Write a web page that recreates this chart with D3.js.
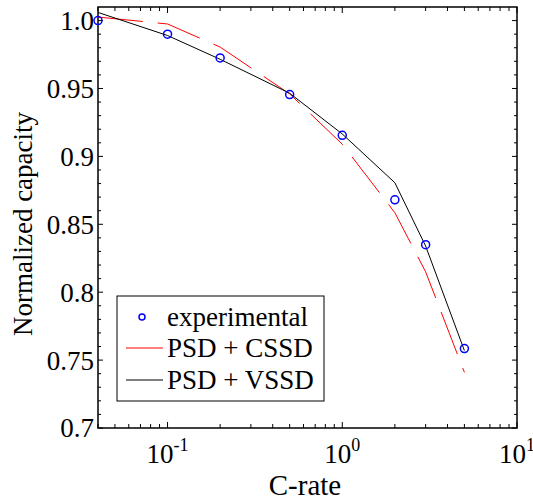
<!DOCTYPE html>
<html>
<head>
<meta charset="utf-8">
<script src="https://cdn.jsdelivr.net/npm/d3@7"></script>
<style>
  body { margin: 0; background: #fff; }
  svg { display: block; }
  svg text { font-family: "Liberation Serif", "DejaVu Serif", "Noto Serif", Times, serif; }
</style>
</head>
<body>
<svg id="chart"></svg>
<script>
const width = 533;
const height = 502;

// C-rate values shared by every series
const cRates = [0.04, 0.1, 0.2, 0.5, 1, 2, 3, 5];
// experimental normalized capacity
const experimental = [1.0, 0.990, 0.9725, 0.9455, 0.9155, 0.868, 0.835, 0.7585];
// PSD + CSSD model (red dashed)
const psdCssd = [1.0026, 0.9975, 0.9805, 0.946, 0.909, 0.8585, 0.815, 0.741];
// PSD + VSSD model (black solid)
const psdVssd = [1.006, 0.989, 0.9715, 0.9465, 0.9165, 0.8806, 0.834, 0.757];

const yTicks = [0.7, 0.75, 0.8, 0.85, 0.9, 0.95, 1.0];
const yTickLabels = ["0.7", "0.75", "0.8", "0.85", "0.9", "0.95", "1.0"];
const xTicks = [0.1, 1, 10];
const xTickExponents = ["-1", "0", "1"];
const legendLabels = ["experimental", "PSD + CSSD", "PSD + VSSD"];

const margin = {top: 7, right: 16, bottom: 74, left: 98};

const svg = d3.select("#chart")
  .attr("width", width)
  .attr("height", height)
  .attr("viewBox", [0, 0, width, height]);

const x = d3.scaleLog()
  .domain([0.04, 10])
  .range([margin.left, width - margin.right]);

const y = d3.scaleLinear()
  .domain([0.7, 1.01])
  .range([height - margin.bottom, margin.top]);

const x0 = x.range()[0], x1 = x.range()[1];
const y0 = y.range()[0], y1 = y.range()[1];

// minor ticks
const xMinor = [];
[0.01, 0.1, 1].forEach(dec => {
  for (let k = 2; k <= 9; k++) {
    const v = dec * k;
    if (v >= 0.04 && v <= 10) xMinor.push(v);
  }
});
const yMinor = d3.range(70, 101).map(d => d / 100).filter(v => !yTicks.some(t => Math.abs(t - v) < 1e-9));

const ticks = svg.append("g").attr("stroke", "#000").attr("stroke-width", 1);

// x ticks, bottom and top, pointing inward
ticks.append("g").selectAll("line")
  .data(xTicks.concat(xMinor))
  .join("line")
  .attr("x1", d => x(d)).attr("x2", d => x(d))
  .attr("y1", y0).attr("y2", d => y0 - (xTicks.includes(d) ? 6 : 4));
ticks.append("g").selectAll("line")
  .data(xTicks.concat(xMinor))
  .join("line")
  .attr("x1", d => x(d)).attr("x2", d => x(d))
  .attr("y1", y1).attr("y2", d => y1 + (xTicks.includes(d) ? 6 : 4));

// y ticks, left and right
ticks.append("g").selectAll("line")
  .data(yTicks.concat(yMinor))
  .join("line")
  .attr("y1", d => y(d)).attr("y2", d => y(d))
  .attr("x1", x0).attr("x2", d => x0 + (yTicks.includes(d) ? 5 : 3));
ticks.append("g").selectAll("line")
  .data(yTicks.concat(yMinor))
  .join("line")
  .attr("y1", d => y(d)).attr("y2", d => y(d))
  .attr("x1", x1).attr("x2", d => x1 - (yTicks.includes(d) ? 5 : 3));

// box
svg.append("rect")
  .attr("x", x0).attr("y", y1)
  .attr("width", x1 - x0).attr("height", y0 - y1)
  .attr("fill", "none")
  .attr("stroke", "#000")
  .attr("stroke-width", 1.5);

// y tick labels
svg.append("g").selectAll("text")
  .data(yTicks)
  .join("text")
  .attr("x", x0 - 4)
  .attr("y", d => y(d))
  .attr("dy", "0.35em")
  .attr("text-anchor", "end")
  .attr("font-size", 27)
  .text((d, i) => yTickLabels[i]);

// x tick labels 10^n
const xl = svg.append("g").selectAll("text")
  .data(xTicks)
  .join("text")
  .attr("x", d => x(d))
  .attr("y", 463)
  .attr("text-anchor", "middle")
  .attr("font-size", 27);
xl.append("tspan").text("10");
xl.append("tspan")
  .attr("dy", -12)
  .attr("font-size", 18)
  .text((d, i) => xTickExponents[i]);

// axis titles
svg.append("text")
  .attr("x", 305)
  .attr("y", 495)
  .attr("text-anchor", "middle")
  .attr("font-size", 29)
  .text("C-rate");

svg.append("text")
  .attr("transform", "translate(32,224) rotate(-90)")
  .attr("text-anchor", "middle")
  .attr("font-size", 27)
  .text("Normalized capacity");

// lines
const line = vals => d3.line()
  .x((d, i) => x(cRates[i]))
  .y(d => y(d))(vals);

svg.append("path")
  .attr("d", line(psdCssd))
  .attr("fill", "none")
  .attr("stroke", "#ff0000")
  .attr("stroke-width", 1)
  .attr("stroke-dasharray", "45,15");

svg.append("path")
  .attr("d", line(psdVssd))
  .attr("fill", "none")
  .attr("stroke", "#000")
  .attr("stroke-width", 1);

svg.append("g").selectAll("circle")
  .data(experimental)
  .join("circle")
  .attr("cx", (d, i) => x(cRates[i]))
  .attr("cy", d => y(d))
  .attr("r", 4)
  .attr("fill", "none")
  .attr("stroke", "#0000ff")
  .attr("stroke-width", 1.5);

// legend
const legend = svg.append("g").attr("transform", "translate(117,296)");
legend.append("rect")
  .attr("width", 207).attr("height", 105)
  .attr("fill", "#fff")
  .attr("stroke", "#000")
  .attr("stroke-width", 1);

const rowY = [21, 52, 84];
legend.append("circle")
  .attr("cx", 25).attr("cy", rowY[0]).attr("r", 3)
  .attr("fill", "none").attr("stroke", "#0000ff").attr("stroke-width", 1.5);
legend.append("line")
  .attr("x1", 9).attr("x2", 46).attr("y1", rowY[1]).attr("y2", rowY[1])
  .attr("stroke", "#ff0000");
legend.append("line")
  .attr("x1", 9).attr("x2", 46).attr("y1", rowY[2]).attr("y2", rowY[2])
  .attr("stroke", "#000");
legend.selectAll("text")
  .data(legendLabels)
  .join("text")
  .attr("x", 50)
  .attr("y", (d, i) => rowY[i])
  .attr("dy", "0.35em")
  .attr("font-size", 27)
  .text(d => d);
</script>
</body>
</html>
